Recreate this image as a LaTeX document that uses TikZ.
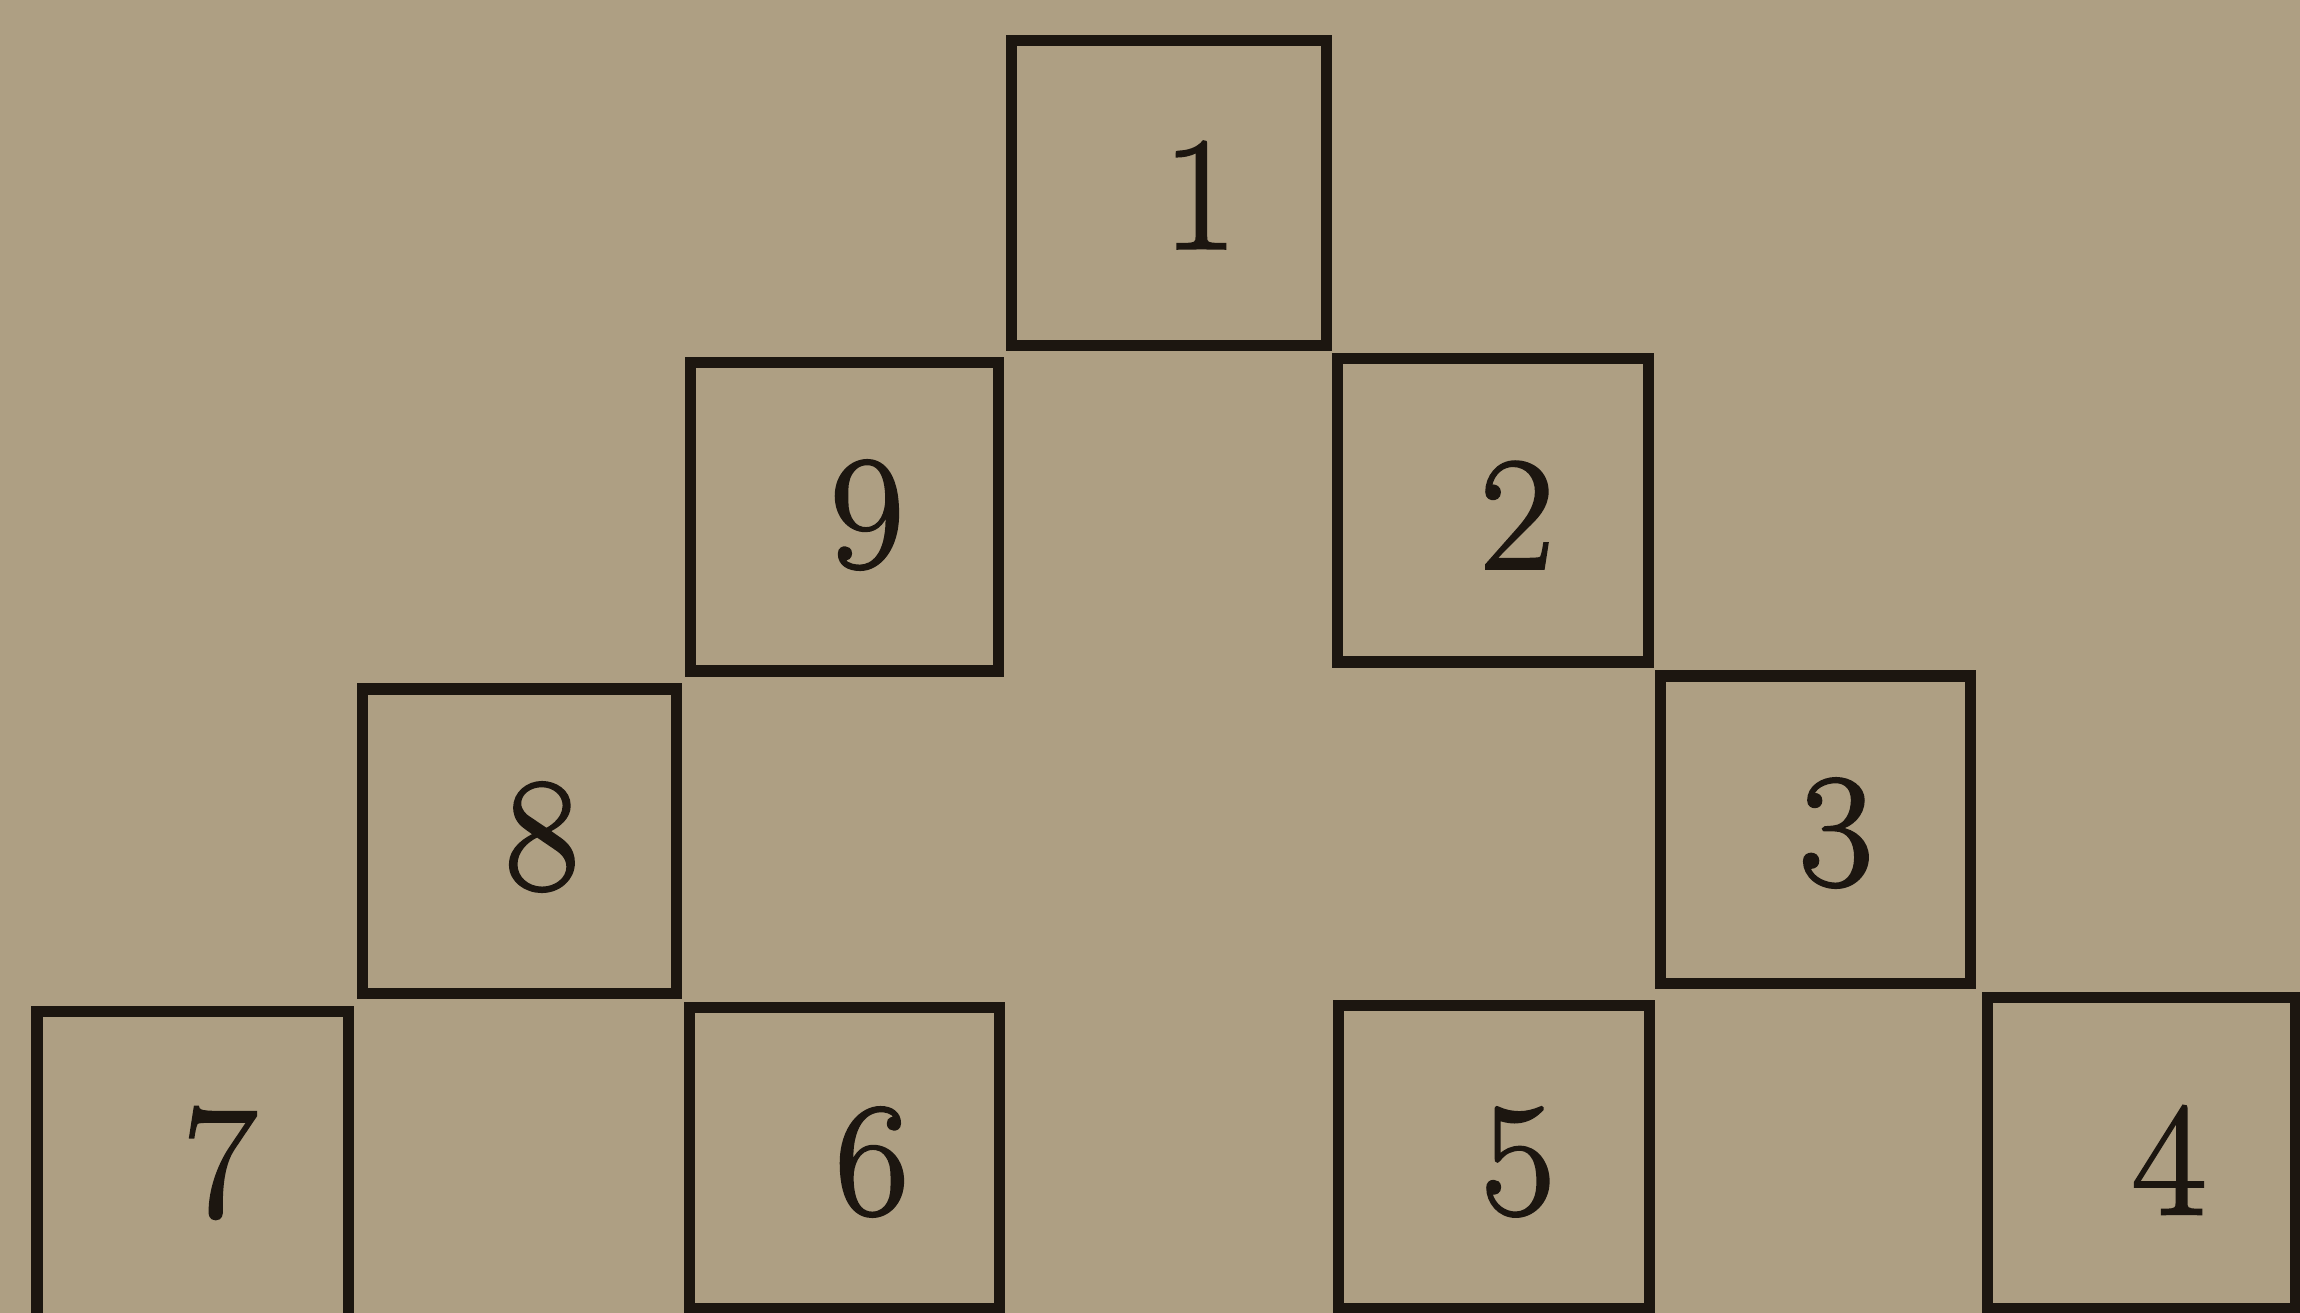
\documentclass[tikz,border=0pt]{standalone}
\usepackage{fontspec}
\newfontfamily\digitfont{Latin Modern Roman}[FakeBold=1.6]
\usetikzlibrary{fit}
\definecolor{paper}{RGB}{174,159,131}
\definecolor{ink}{RGB}{28,22,16}
\begin{document}
\begin{tikzpicture}[x=0.01cm,y=-0.01cm,
  cell/.style={draw=ink, line width=0.11cm, inner sep=0pt, outer sep=0pt},
  num/.style={text=ink, inner sep=0pt, font=\digitfont\fontsize{46}{50}\selectfont}]
\fill[paper] (0,0) rectangle (2300,1313);
\useasboundingbox (0,0) rectangle (2300,1313);
\clip (0,0) rectangle (2300,1313);
% squares
\node[cell, fit={(1011,41) (1326,346)}] (b1) {};
\node[cell, fit={(1337,359) (1648,662)}] (b2) {};
\node[cell, fit={(1660,676) (1970,983)}] (b3) {};
\node[cell, fit={(1987,997) (2295,1308)}] (b4) {};
\node[cell, fit={(1338,1005) (1649,1308)}] (b5) {};
\node[cell, fit={(689,1007) (999,1308)}] (b6) {};
\node[cell, fit={(37,1011) (348,1320)}] (b7) {};
\node[cell, fit={(362,689) (676,993)}] (b8) {};
\node[cell, fit={(690,363) (998,671)}] (b9) {};
% numbers
\node[num] (n1) at (1200,195) {1};
\node[num] (n2) at (1517,515) {2};
\node[num] (n3) at (1836,833) {3};
\node[num] (n4) at (2169,1160) {4};
\node[num] (n5) at (1518,1162) {5};
\node[num] (n6) at (872,1162) {6};
\node[num] (n7) at (220,1163) {7};
\node[num] (n8) at (542,837) {8};
\node[num] (n9) at (867,515) {9};
\end{tikzpicture}
\end{document}
